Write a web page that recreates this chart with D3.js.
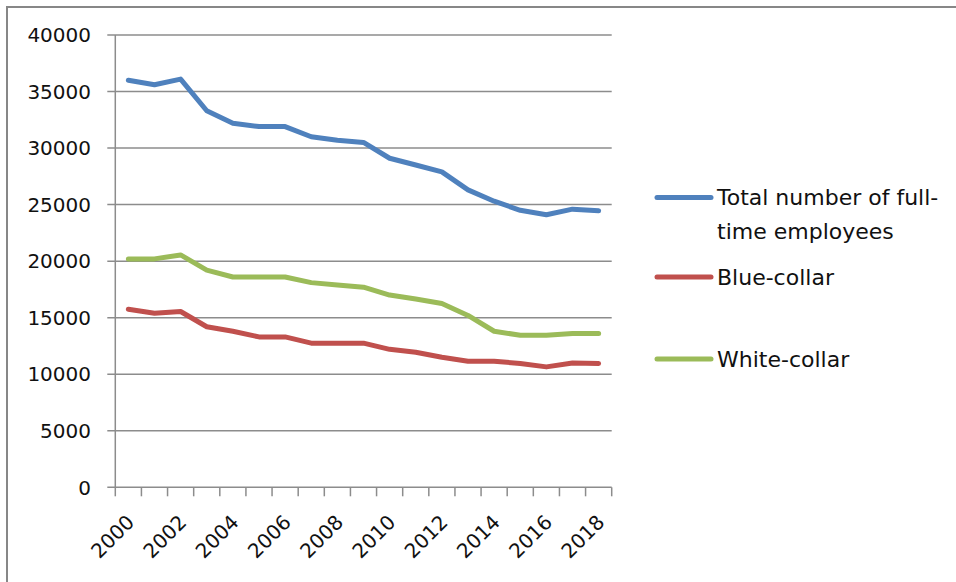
<!DOCTYPE html>
<html>
<head>
<meta charset="utf-8">
<script src="https://cdn.jsdelivr.net/npm/d3@7"></script>
<style>
  body { margin: 0; background: #fff; }
  svg { display: block; font-family: "DejaVu Sans", Verdana, sans-serif; }
</style>
</head>
<body>
<div id="chart"></div>
<script>
const canvas = { w: 956, h: 582 };

const years = ["2000", "2001", "2002", "2003", "2004", "2005", "2006", "2007", "2008", "2009",
  "2010", "2011", "2012", "2013", "2014", "2015", "2016", "2017", "2018"];
const labelYears = ["2000", "2002", "2004", "2006", "2008", "2010", "2012", "2014", "2016", "2018"];
const yTicks = [0, 5000, 10000, 15000, 20000, 25000, 30000, 35000, 40000];

const totalEmployees = [36000, 35600, 36100, 33300, 32200, 31900, 31900, 31000, 30700, 30500,
  29100, 28500, 27900, 26300, 25300, 24500, 24100, 24600, 24450];
const blueCollar = [15750, 15400, 15550, 14200, 13800, 13300, 13300, 12750, 12750, 12750,
  12200, 11950, 11500, 11150, 11150, 10950, 10650, 11000, 10950];
const whiteCollar = [20200, 20200, 20550, 19200, 18600, 18600, 18600, 18100, 17900, 17700,
  17000, 16650, 16250, 15200, 13800, 13450, 13450, 13600, 13600];

const seriesNames = ["Total number of full-time employees", "Blue-collar", "White-collar"];
const seriesColors = ["#4F81BD", "#C0504D", "#9BBB59"];
const seriesValues = [totalEmployees, blueCollar, whiteCollar];

const plot = { left: 115.3, right: 611.7, top: 35, bottom: 487.3 };

const x = d3.scaleBand().domain(years).range([plot.left, plot.right]).padding(0);
const y = d3.scaleLinear().domain([0, 40000]).range([plot.bottom, plot.top]);
const cx = d => x(d) + x.bandwidth() / 2;

const svg = d3.select("#chart")
  .append("svg")
  .attr("width", canvas.w)
  .attr("height", canvas.h)
  .attr("viewBox", `0 0 ${canvas.w} ${canvas.h}`);

// chart border (only top and left visible in the crop)
svg.append("path")
  .attr("d", `M7,${canvas.h} L7,7 L${canvas.w},7`)
  .attr("fill", "none")
  .attr("stroke", "#878787")
  .attr("stroke-width", 2);

const gridColor = "#8c8c8c";

// horizontal gridlines + y ticks
svg.append("g")
  .selectAll("line")
  .data(yTicks)
  .enter()
  .append("line")
  .attr("x1", plot.left - 8)
  .attr("x2", plot.right)
  .attr("y1", d => y(d))
  .attr("y2", d => y(d))
  .attr("stroke", gridColor)
  .attr("stroke-width", 1.5);

svg.append("g")
  .selectAll("text")
  .data(yTicks)
  .enter()
  .append("text")
  .attr("x", 91)
  .attr("y", d => y(d))
  .attr("dy", "0.36em")
  .attr("text-anchor", "end")
  .attr("font-size", 20)
  .attr("fill", "#111")
  .text(d => d);

// y axis line
svg.append("line")
  .attr("x1", plot.left).attr("x2", plot.left)
  .attr("y1", y(40000)).attr("y2", y(0))
  .attr("stroke", gridColor)
  .attr("stroke-width", 1.5);

// x tick marks at band edges
const edges = years.map(d => x(d)).concat([x.range()[1]]);
svg.append("g")
  .selectAll("line")
  .data(edges)
  .enter()
  .append("line")
  .attr("x1", d => d).attr("x2", d => d)
  .attr("y1", plot.bottom).attr("y2", plot.bottom + 9)
  .attr("stroke", gridColor)
  .attr("stroke-width", 1.5);

// x labels, rotated
svg.append("g")
  .selectAll("text")
  .data(labelYears)
  .enter()
  .append("text")
  .attr("transform", d => `translate(${cx(d) + 2},${plot.bottom + 31}) rotate(-45)`)
  .attr("dy", "0.36em")
  .attr("text-anchor", "end")
  .attr("font-size", 20)
  .attr("fill", "#111")
  .text(d => d);

// series lines
const line = d3.line()
  .x((d, i) => cx(years[i]))
  .y(d => y(d));

svg.append("g")
  .selectAll("path")
  .data(seriesValues)
  .enter()
  .append("path")
  .attr("d", line)
  .attr("fill", "none")
  .attr("stroke", (d, i) => seriesColors[i])
  .attr("stroke-width", 5)
  .attr("stroke-linejoin", "round")
  .attr("stroke-linecap", "round");

// legend
const legendY = [197.5, 277, 359];
const legendLines = [["Total number of full-", "time employees"], ["Blue-collar"], ["White-collar"]];

const legend = svg.append("g")
  .selectAll("g")
  .data(seriesNames)
  .enter()
  .append("g")
  .attr("transform", (d, i) => `translate(0,${legendY[i]})`);

legend.append("line")
  .attr("x1", 657).attr("x2", 711)
  .attr("y1", 0).attr("y2", 0)
  .attr("stroke", (d, i) => seriesColors[i])
  .attr("stroke-width", 5)
  .attr("stroke-linecap", "round");

legend.append("text")
  .attr("x", 717)
  .attr("font-size", 22)
  .attr("fill", "#111")
  .selectAll("tspan")
  .data((d, i) => legendLines[i])
  .enter()
  .append("tspan")
  .attr("x", 717)
  .attr("y", (d, j) => j * 33.5)
  .attr("dy", "0.36em")
  .text(d => d);
</script>
</body>
</html>
